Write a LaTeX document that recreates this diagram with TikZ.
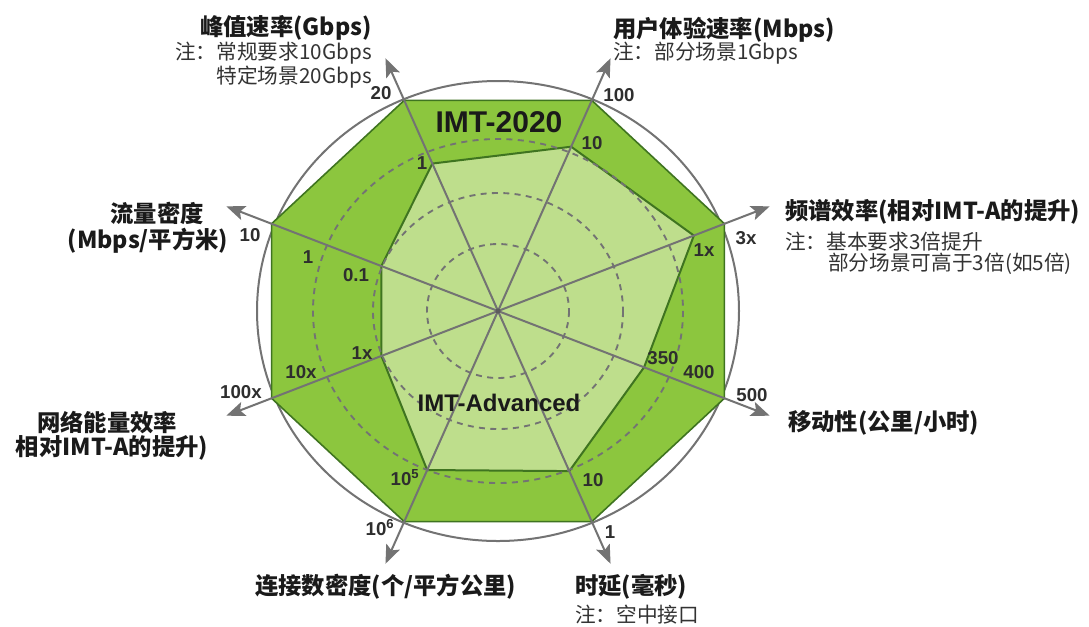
\documentclass[tikz,border=0pt]{standalone}
\usepackage{fontspec}
\setmainfont{Liberation Sans}
\newfontfamily\cjk{Noto Sans CJK SC}
\usetikzlibrary{arrows.meta}
\definecolor{brightgreen}{HTML}{8CC63E}
\definecolor{lightgreen}{HTML}{BEDE8C}
\definecolor{darkgreen}{HTML}{3F7420}
\definecolor{axisgray}{HTML}{737373}
\definecolor{titlecol}{HTML}{1A1A1A}
\definecolor{notecol}{HTML}{333333}
\definecolor{valcol}{HTML}{2E2E2E}
\begin{document}
\begin{tikzpicture}[x=0.75pt,y=-0.75pt,
  title/.style={font=\cjk\bfseries\fontsize{17.5}{20}\selectfont, text=titlecol, inner sep=0pt},
  note/.style={font=\cjk\fontsize{15.5}{18}\selectfont, text=notecol, inner sep=0pt},
  val/.style={font=\bfseries\fontsize{14}{17}\selectfont, text=valcol, inner sep=0pt},
  big/.style={font=\bfseries\fontsize{22.5}{26}\selectfont, text=titlecol, inner sep=0pt},
  mid/.style={font=\bfseries\fontsize{18}{22}\selectfont, text=titlecol, inner sep=0pt},
  axisline/.style={draw=axisgray, line width=1.5pt, -{Stealth[length=14pt,width=11pt,inset=3pt]}},
  gridring/.style={draw=axisgray, line width=1.4pt, dash pattern=on 4.5pt off 4pt},
]
\useasboundingbox (0,0) rectangle (1089,626);
\fill[white] (0,0) rectangle (1089,626);
\def\cx{498}\def\cy{311}\def\sx{1.075}\def\R{228}
\coordinate (O) at (\cx,\cy);
\foreach \a/\fr [count=\i] in {112.5/0.70, 67.5/0.78, 22.5/0.865, -22.5/0.645, -67.5/0.76, -112.5/0.755, -157.5/0.515, 157.5/0.515} {
  \coordinate (V\i) at ({\cx+\sx*\R*cos(\a)},{\cy-\R*sin(\a)});
  \coordinate (I\i) at ({\cx+\sx*\R*\fr*cos(\a)},{\cy-\R*\fr*sin(\a)});
  \coordinate (T\i) at ({\cx+\sx*1.2*\R*cos(\a)},{\cy-1.2*\R*sin(\a)});
}
% outer circle
\draw[axisgray, line width=1.5pt] (O) ellipse [x radius=241, y radius=230];
% IMT-2020
\filldraw[fill=brightgreen, draw=darkgreen, line width=1.2pt, line join=round]
  (V1) -- (V2) -- (V3) -- (V4) -- (V5) -- (V6) -- (V7) -- (V8) -- cycle;
% IMT-Advanced
\filldraw[fill=lightgreen, draw=darkgreen, line width=1.5pt, line join=round]
  (I1) -- (I2) -- (I3) -- (I4) -- (I5) -- (I6) -- (I7) -- (I8) -- cycle;
% dashed rings
\draw[gridring] (O) ellipse [x radius=71, y radius=67];
\draw[gridring] (O) ellipse [x radius=125, y radius=118];
\draw[gridring] (O) ellipse [x radius=185, y radius=172];
% axes
\foreach \i in {1,...,8} \draw[axisline] (O) -- (T\i);
\fill[axisgray!80!black] (O) circle [radius=2.5];
% scale values
\node[val] (v20) at (381,93) {20};
\node[val] (v100) at (619,95) {100};
\node[val] (v3x) at (746,238) {3x};
\node[val] (v1xs) at (704,250) {1x};
\node[val] (v10l) at (250,235) {10};
\node[val] (v1l) at (308,257) {1};
\node[val] (v01) at (356,275) {0.1};
\node[val] (v1xe) at (362,353) {1x};
\node[val] (v10x) at (301,372) {10x};
\node[val] (v100x) at (241,392) {100x};
\node[val] (v350) at (663,358) {350};
\node[val] (v400) at (699,372) {400};
\node[val] (v500) at (752,395) {500};
\node[val] (v105) at (405,478) {10\textsuperscript{5}};
\node[val] (v106) at (380,528) {10\textsuperscript{6}};
\node[val] (v10t) at (593,480) {10};
\node[val] (v1t) at (610,532) {1};
\node[val] (v1p) at (422,163) {1};
\node[val] (v10u) at (592,143) {10};
\node[big] (imt2020) at (499,122) {IMT-2020};
\node[mid] (imtadv) at (499,403) {IMT-Advanced};
% axis titles
\node[title, anchor=east] (t1) at (372,28) {峰值速率(Gbps)};
\node[note, anchor=east] (t1a) at (372,53) {注：常规要求10Gbps};
\node[note, anchor=east] (t1b) at (372,77) {特定场景20Gbps};
\node[title, anchor=west] (t2) at (613,30) {用户体验速率(Mbps)};
\node[note, anchor=west] (t2a) at (613,53) {注：部分场景1Gbps};
\node[title, anchor=west] (t3) at (785,212) {频谱效率(相对IMT-A的提升)};
\node[note, anchor=west] (t3a) at (785,242) {注：基本要求3倍提升};
\node[note, anchor=west] (t3b) at (828,264) {部分场景可高于3倍(如5倍)};
\node[title] (t8a) at (157,213) {流量密度};
\node[title] (t8b) at (148,241) {(Mbps/平方米)};
\node[title] (t7a) at (107,423) {网络能量效率};
\node[title] (t7b) at (112,448) {相对IMT-A的提升)};
\node[title, anchor=west] (t4) at (788,423) {移动性(公里/小时)};
\node[title, anchor=west] (t6) at (255,587) {连接数密度(个/平方公里)};
\node[title, anchor=west] (t5) at (575,587) {时延(毫秒)};
\node[note, anchor=west] (t5a) at (575,615) {注：空中接口};
\end{tikzpicture}
\end{document}
